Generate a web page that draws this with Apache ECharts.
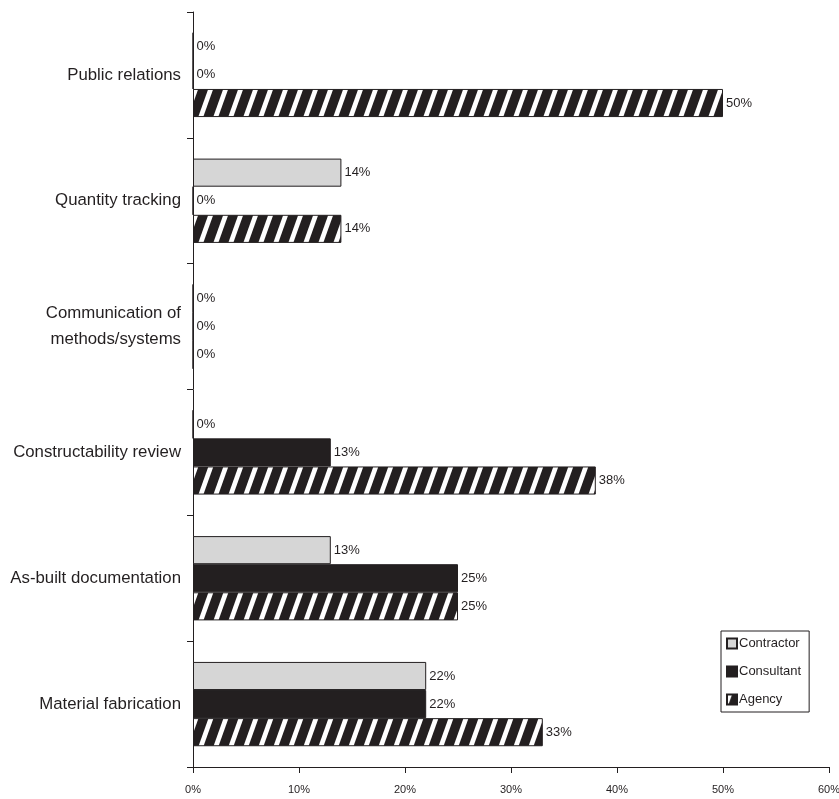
<!DOCTYPE html>
<html>
<head>
<meta charset="utf-8">
<script src="https://cdn.jsdelivr.net/npm/echarts@6/dist/echarts.min.js"></script>
<style>
  html, body { margin: 0; padding: 0; background: #fff; }
  #chart { width: 839px; height: 799px; }
</style>
</head>
<body>
<div id="chart"></div>
<script>
// Task categories, listed top to bottom
const categories = [
  'Public relations',
  'Quantity tracking',
  'Communication of\nmethods/systems',
  'Constructability review',
  'As-built documentation',
  'Material fabrication'
];
// Share of respondents (%) per group
const contractor = [0, 14, 0, 0, 13, 22];
const consultant = [0, 0, 0, 13, 25, 22];
const agency = [50, 14, 0, 38, 25, 33];
const xTicks = { min: 0, max: 60, step: 10 };

const INK = '#231f20';
const FONT = "'Liberation Sans', Arial, sans-serif";

// Diagonal white stripes on black for the Agency bars
function stripePattern() {
  const w = 15, h = 42, stripe = 5;
  const c = document.createElement('canvas');
  c.width = w; c.height = h;
  const g = c.getContext('2d');
  g.fillStyle = INK;
  g.fillRect(0, 0, w, h);
  g.fillStyle = '#ffffff';
  for (let k = -2; k <= 2; k++) {
    const x = k * w;
    g.beginPath();
    g.moveTo(x, h);
    g.lineTo(x + stripe, h);
    g.lineTo(x + stripe + w, 0);
    g.lineTo(x + w, 0);
    g.closePath();
    g.fill();
  }
  return { image: c, repeat: 'repeat' };
}

const valueLabel = {
  show: true,
  position: 'right',
  distance: 3,
  formatter: '{c}%',
  color: INK,
  fontFamily: FONT,
  fontSize: 13
};

function barSeries(name, values, color) {
  return {
    name: name,
    type: 'bar',
    data: values,
    barGap: '0%',
    barCategoryGap: '33%',
    itemStyle: { color: color, borderColor: INK, borderWidth: 1 },
    label: valueLabel
  };
}

const chart = echarts.init(document.getElementById('chart'));
chart.setOption({
  animation: false,
  backgroundColor: '#ffffff',
  grid: { left: 193, right: 10, top: 12, bottom: 32, containLabel: false, outerBoundsMode: 'none' },
  legend: {
    orient: 'vertical',
    left: 721,
    top: 631,
    backgroundColor: '#ffffff',
    borderColor: INK,
    borderWidth: 1,
    padding: [6, 8, 6, 5],
    itemGap: 15,
    itemWidth: 10,
    itemHeight: 10,
    icon: 'rect',
    textStyle: { color: INK, fontFamily: FONT, fontSize: 13, padding: [0, 0, 0, -3] },
    data: ['Contractor', 'Consultant', 'Agency']
  },
  xAxis: {
    type: 'value',
    min: xTicks.min,
    max: xTicks.max,
    interval: xTicks.step,
    splitLine: { show: false },
    axisLine: { show: true, lineStyle: { color: INK, width: 1 } },
    axisTick: { show: true, length: 6, lineStyle: { color: INK } },
    axisLabel: { formatter: '{value}%', color: INK, fontFamily: FONT, fontSize: 11, margin: 17 }
  },
  yAxis: {
    type: 'category',
    inverse: true,
    data: categories,
    axisLine: { show: true, lineStyle: { color: INK, width: 1 } },
    axisTick: { show: true, length: 6, lineStyle: { color: INK } },
    axisLabel: { color: INK, fontFamily: FONT, fontSize: 16.8, margin: 12, lineHeight: 26, align: 'right', padding: [4, 0, 0, 0] }
  },
  series: [
    barSeries('Contractor', contractor, '#d6d6d6'),
    barSeries('Consultant', consultant, INK),
    barSeries('Agency', agency, stripePattern())
  ]
});
</script>
</body>
</html>
